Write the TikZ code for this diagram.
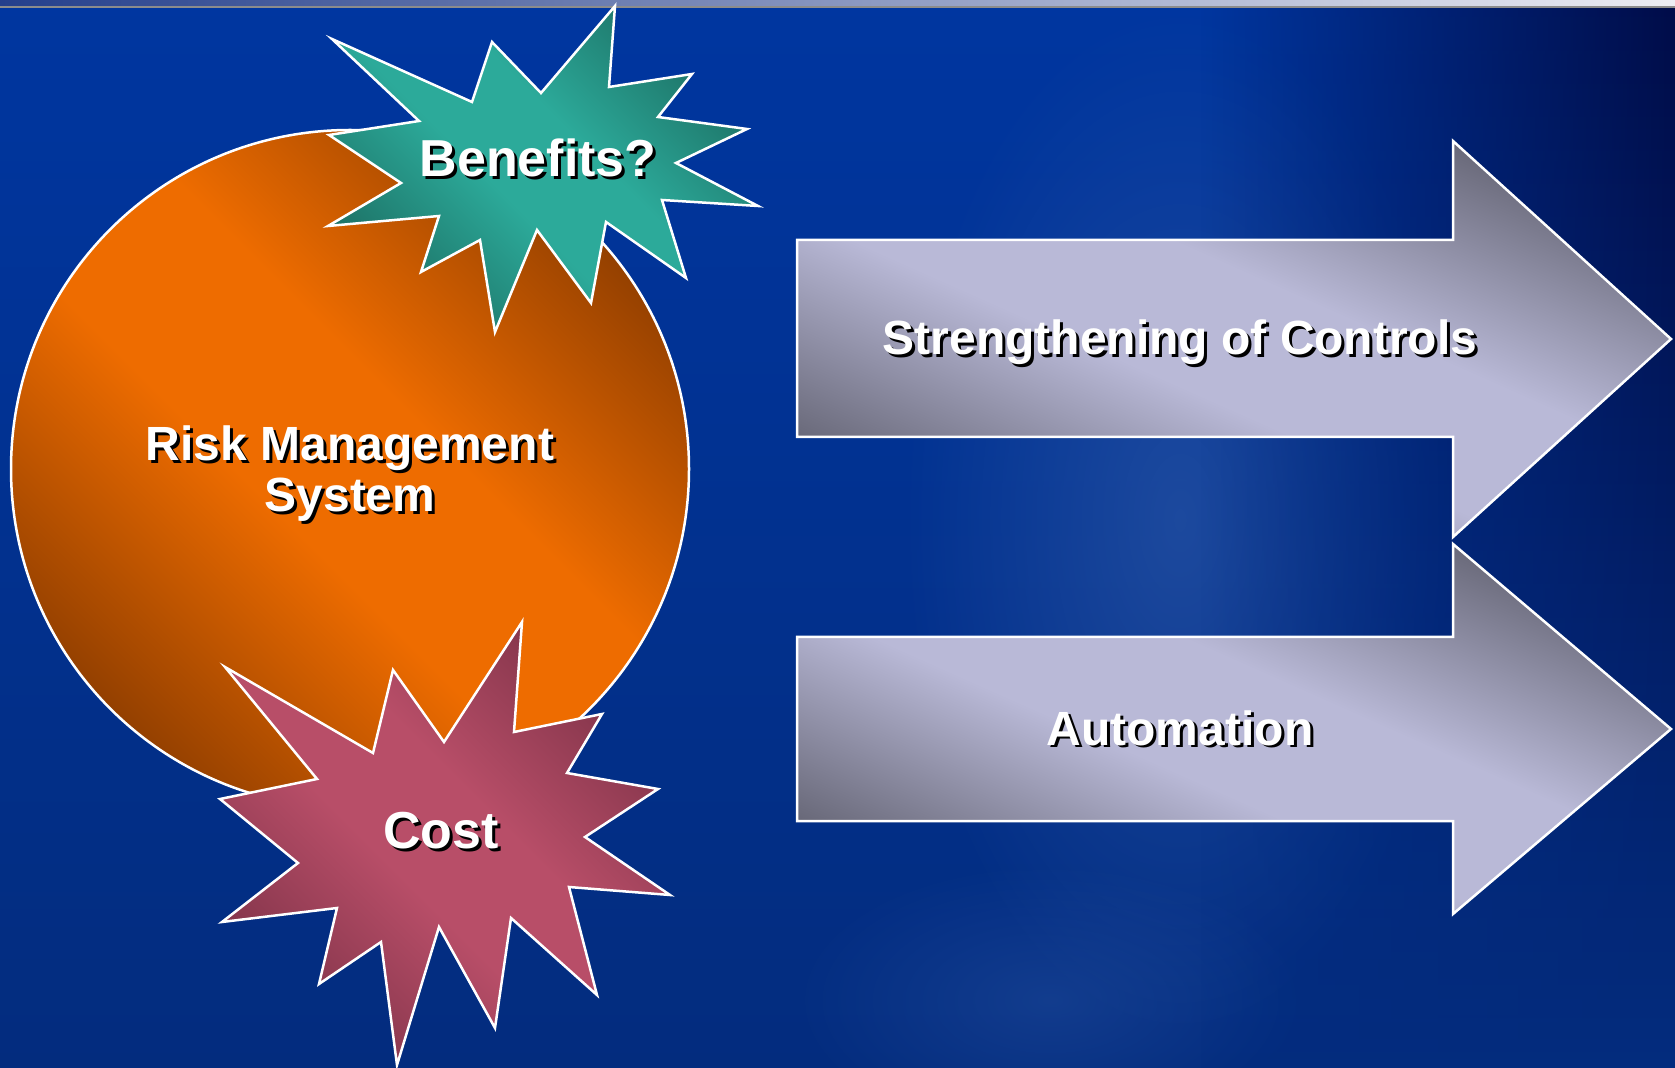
\documentclass[tikz,border=0pt]{standalone}
\usepackage{fontspec}
\setmainfont{Liberation Sans}
\usetikzlibrary{fadings}

% palette
\definecolor{bgtop}{HTML}{0036A0}
\definecolor{bgbottom}{HTML}{032C7E}
\definecolor{bgnavy}{HTML}{000C48}
\definecolor{bgglow}{HTML}{2F5AA8}
\definecolor{barleft}{HTML}{243F8C}
\definecolor{barmid}{HTML}{7C92C4}
\definecolor{barright}{HTML}{EDEDF3}
\definecolor{orangehi}{HTML}{EE6C00}
\definecolor{orangelo}{HTML}{944000}
\definecolor{tealhi}{HTML}{2CAA9A}
\definecolor{teallo}{HTML}{1D7266}
\definecolor{rosehi}{HTML}{B84E68}
\definecolor{roselo}{HTML}{82344A}
\definecolor{steelhi}{HTML}{B9B9D7}
\definecolor{steello}{HTML}{686878}
\colorlet{sheenlo}{black}
\colorlet{sheenhi}{white}

% diagonal sheen: dark at two opposite corners, bright band between
\pgfdeclareverticalshading[sheenlo,sheenhi]{sheenshade}{100bp}{%
  color(0bp)=(sheenlo); color(25bp)=(sheenlo); color(44bp)=(sheenhi);
  color(56bp)=(sheenhi); color(75bp)=(sheenlo); color(100bp)=(sheenlo)}

\tikzfading[name=glowfade, inner color=transparent!0, outer color=transparent!100]
\tikzfading[name=eastfade, left color=transparent!100, right color=transparent!0]

% white text with a black drop shadow
\newcommand{\shadowed}[1]{\leavevmode\rlap{\kern1.5pt\raisebox{-1.5pt}{\color{black}#1}}#1}

\begin{document}
\begin{tikzpicture}[x=0.5pt,y=-0.5pt,
  outline/.style={draw=white, line width=1.25pt, line join=miter},
  sheen/.style 2 args={/utils/exec={\colorlet{sheenlo}{#1}\colorlet{sheenhi}{#2}},
    shade, shading=sheenshade, shading angle=-45},
  lbl/.style={text=white, inner sep=0pt, align=center,
    font=\bfseries\fontsize{24}{25.5}\selectfont},
  biglbl/.style={lbl, font=\bfseries\fontsize{26}{28}\selectfont}]

\useasboundingbox (0,0) rectangle (1675,1068);

% backdrop
\shade[top color=bgtop, bottom color=bgbottom] (0,0) rectangle (1675,1068);
\fill[bgglow, opacity=0.6, path fading=glowfade] (1180,520) ellipse[x radius=280, y radius=520];
\fill[bgglow, opacity=0.35, path fading=glowfade] (1050,1000) ellipse[x radius=260, y radius=140];
\shade[top color=bgnavy, bottom color=bgbottom, path fading=eastfade] (1200,0) rectangle (1675,1068);

% title strip along the top edge
\shade[left color=barleft, middle color=barmid, right color=barright] (0,0) rectangle (1675,7);
\draw[color=black!45, line width=0.6pt] (0,7) -- (1675,7);

% central disc
\path[outline, sheen={orangelo}{orangehi}] (350,469) circle[radius=169.5pt];

% starburst above
\path[outline, sheen={teallo}{tealhi}]
  (332,39) -- (472,102) -- (492,42) -- (541,93) -- (615,6) -- (609,87)
  -- (692,74) -- (658,117) -- (747,129) -- (676,163) -- (758,206) -- (662,200)
  -- (686,278) -- (606,222) -- (591,303) -- (537,230) -- (495,332) -- (480,240)
  -- (421,272) -- (439,216) -- (328,226) -- (401,183) -- (329,135) -- (419,121) -- cycle;

% starburst below
\path[outline, sheen={roselo}{rosehi}]
  (225,667) -- (373,753) -- (393,670) -- (444,742) -- (522,622) -- (514,732)
  -- (602,714) -- (567,773) -- (658,789) -- (585,837) -- (670,895) -- (569,887)
  -- (597,995) -- (511,918) -- (495,1028) -- (439,927) -- (397,1065) -- (381,942)
  -- (319,984) -- (337,908) -- (222,922) -- (298,863) -- (220,799) -- (317,779) -- cycle;

% block arrows
\path[outline, sheen={steello}{steelhi}, shading angle=-24]
  (797,240) -- (1453,240) -- (1453,141) -- (1671,339) -- (1453,537)
  -- (1453,437) -- (797,437) -- cycle;
\path[outline, sheen={steello}{steelhi}, shading angle=-24]
  (797,637) -- (1453,637) -- (1453,544) -- (1671,729) -- (1453,914)
  -- (1453,821) -- (797,821) -- cycle;

% labels
\node[lbl, anchor=base] (rms) at (350,512) {\shadowed{Risk Management}\\\shadowed{System}};
\node[biglbl, anchor=base] (benefits) at (538,177) {\shadowed{Benefits?}};
\node[biglbl, anchor=base] (cost) at (441,848) {\shadowed{Cost}};
\node[lbl, anchor=base] (controls) at (1180,355) {\shadowed{Strengthening of Controls}};
\node[lbl, anchor=base] (automation) at (1180,745) {\shadowed{Automation}};

\end{tikzpicture}
\end{document}
